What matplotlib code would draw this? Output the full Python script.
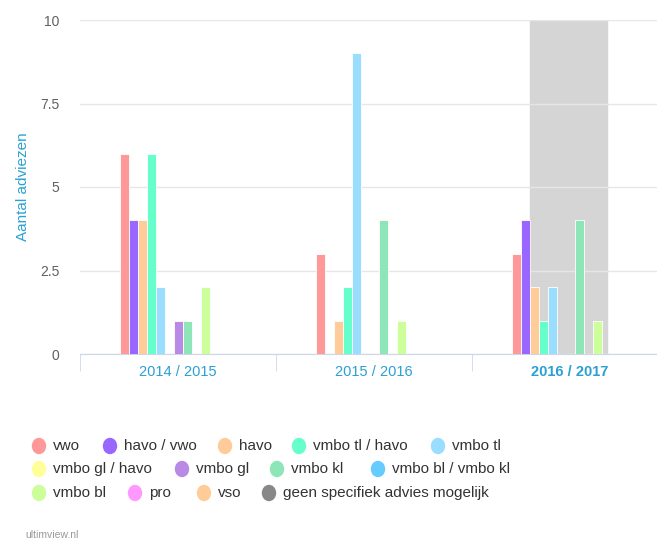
import matplotlib
matplotlib.use("Agg")
import matplotlib.pyplot as plt
import numpy as np

plt.rcParams["font.family"] = ["Liberation Sans", "DejaVu Sans"]

# Schooljaren en adviezen
years = ["2014 / 2015", "2015 / 2016", "2016 / 2017"]
series = ["vwo", "havo / vwo", "havo", "vmbo tl / havo", "vmbo tl",
          "vmbo gl / havo", "vmbo gl", "vmbo kl", "vmbo bl / vmbo kl",
          "vmbo bl", "pro", "vso", "geen specifiek advies mogelijk"]
colors = ["#ff9999", "#9966ff", "#ffcc99", "#66ffcc", "#99ddff",
          "#ffff99", "#b88ae6", "#8ee6b8", "#66ccff",
          "#ccff99", "#ff99ff", "#ffcc99", "#888888"]
values = [
    [6, 3, 3],   # vwo
    [4, 0, 4],   # havo / vwo
    [4, 1, 2],   # havo
    [6, 2, 1],   # vmbo tl / havo
    [2, 9, 2],   # vmbo tl
    [0, 0, 0],   # vmbo gl / havo
    [1, 0, 0],   # vmbo gl
    [1, 4, 4],   # vmbo kl
    [0, 0, 0],   # vmbo bl / vmbo kl
    [2, 1, 1],   # vmbo bl
    [0, 0, 0],   # pro
    [0, 0, 0],   # vso
    [0, 0, 0],   # geen specifiek advies mogelijk
]
yticks = [0, 2.5, 5, 7.5, 10]
ytick_labels = ["0", "2.5", "5", "7.5", "10"]

W, H = 657, 541
fig = plt.figure(figsize=(W / 100, H / 100), dpi=100)
ax = fig.add_axes([80 / W, 1 - 354 / H, 1 - 80 / W, (354 - 20) / H])

x = np.arange(len(years))
slot = 9 / 196
n = len(series)
for i, (name, col, vals) in enumerate(zip(series, colors, values)):
    offs = (i - (n - 1) / 2) * slot
    ax.bar(x + offs, vals, width=slot, color=col, edgecolor="white",
           linewidth=0.6, zorder=3)

# huidig schooljaar gemarkeerd
ax.axvspan(1.796, 2.189, color="#d5d5d5", zorder=1)

ax.set_xlim(-0.5, -0.5 + (W - 80) / 196)
ax.set_ylim(0, 10)
ax.set_yticks(yticks)
ax.set_yticklabels(ytick_labels)
ax.yaxis.grid(True, color="#e6e6e6", linewidth=1, zorder=2)
ax.set_axisbelow(False)
for s in ["top", "right", "left"]:
    ax.spines[s].set_visible(False)
ax.spines["bottom"].set_color("#ccd6eb")
ax.tick_params(axis="y", length=0, labelsize=10, labelcolor="#606060", pad=15)

ax.set_xticks(x)
ax.set_xticklabels(years)
ax.tick_params(axis="x", length=0, labelsize=10.5, labelcolor="#2aa0d4", pad=8)
ax.get_xticklabels()[2].set_fontweight("bold")
ax.set_xticks([-0.5, 0.5, 1.5], minor=True)
ax.tick_params(axis="x", which="minor", length=12, color="#ccd6eb")

ax.set_ylabel("Aantal adviezen", color="#2aa0d4", fontsize=11, labelpad=7)

# legenda
rows = [
    [(39, 0), (110, 1), (225, 2), (299, 3), (438, 4)],
    [(39, 5), (182, 6), (277, 7), (378, 8)],
    [(39, 9), (135, 10), (204, 11), (269, 12)],
]
row_y = [446, 469, 493]
for ry, row in zip(row_y, rows):
    for px, idx in row:
        fig.patches.append(matplotlib.patches.Ellipse(
            (px / W, 1 - ry / H), 13 / W, 15 / H, color=colors[idx],
            transform=fig.transFigure, figure=fig))
        fig.text((px + 14) / W, 1 - ry / H, series[idx], fontsize=11,
                 color="#333333", va="center", ha="left")

fig.text(25 / W, 1 - 535 / H, "ultimview.nl", fontsize=7.5, color="#999999",
         va="center", ha="left")

fig.savefig("out.png", dpi=100)
